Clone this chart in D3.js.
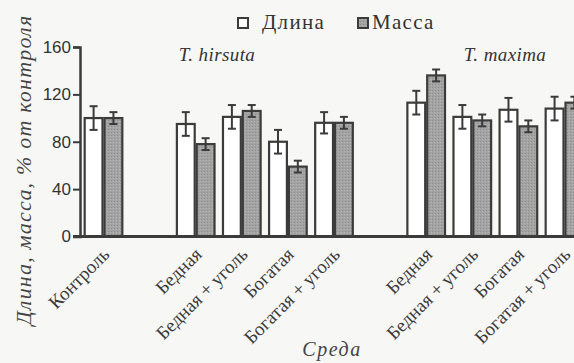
<!DOCTYPE html>
<html><head><meta charset="utf-8">
<script src="https://cdn.jsdelivr.net/npm/d3@7/dist/d3.min.js"></script>
<style>
body{margin:0;background:#f7f7f5;} svg{display:block;}
.serif{font-family:"Liberation Serif","Times New Roman",serif;}
.sans{font-family:"Liberation Sans",Arial,sans-serif;}
</style>
</head><body>
<svg id="c" width="574" height="363"></svg>
<script>
const groups = ["control", "T. hirsuta", "T. maxima"];
const categories = ["Контроль","Бедная","Бедная + уголь","Богатая","Богатая + уголь","Бедная","Бедная + уголь","Богатая","Богатая + уголь"];
const categoryGroup = ["control","T. hirsuta","T. hirsuta","T. hirsuta","T. hirsuta","T. maxima","T. maxima","T. maxima","T. maxima"];
const series = ["Длина", "Масса"];
const lengthValues = [100, 95, 101, 80, 96, 113, 101, 107, 108];
const lengthErr    = [10, 10, 10, 10, 9, 10, 10, 10, 10];
const massValues   = [100, 78, 106, 59, 96, 136, 98, 93, 113];
const massErr      = [5, 5, 5, 5, 5, 5, 5, 5, 5];
const yTicks = [0, 40, 80, 120, 160];

const svg = d3.select("#c");
const ink = "#3b3b3b";
const grayFill = "#a3a3a3";

// slot domain: a blank slot between groups
const slots = [];
categories.forEach((c, i) => {
  if (i > 0 && categoryGroup[i] !== categoryGroup[i-1]) slots.push("gap" + i);
  slots.push("c" + i);
});
const x = d3.scaleBand().domain(slots).range([80, 588]).paddingInner(0.14).paddingOuter(0.08);
const xs = d3.scaleBand().domain(series).range([0, x.bandwidth()]).padding(0);
const y = d3.scaleLinear().domain([0, 160]).range([236.5, 47]);

// gray texture
const defs = svg.append("defs");
const pat = defs.append("pattern").attr("id","tex").attr("width",3).attr("height",3).attr("patternUnits","userSpaceOnUse");
pat.append("rect").attr("width",3).attr("height",3).attr("fill",grayFill);
pat.append("rect").attr("x",0).attr("y",0).attr("width",1).attr("height",1).attr("fill","#8e8e8e");
pat.append("rect").attr("x",2).attr("y",1).attr("width",1).attr("height",1).attr("fill","#b5b5b5");

const data = [];
categories.forEach((c, i) => {
  data.push({slot:"c"+i, s:"Длина", v:lengthValues[i], e:lengthErr[i]});
  data.push({slot:"c"+i, s:"Масса", v:massValues[i], e:massErr[i]});
});

const g = svg.append("g");
g.selectAll("rect.bar").data(data).enter().append("rect")
  .attr("class","bar")
  .attr("x", d => x(d.slot) + xs(d.s) + 1)
  .attr("width", xs.bandwidth() - 2)
  .attr("y", d => y(d.v))
  .attr("height", d => y(0) - y(d.v))
  .attr("fill", d => d.s === "Длина" ? "#ffffff" : "url(#tex)")
  .attr("stroke", ink).attr("stroke-width", 2.2);

// error bars
const eb = g.selectAll("g.eb").data(data).enter().append("g").attr("class","eb")
  .attr("transform", d => `translate(${x(d.slot) + xs(d.s) + xs.bandwidth()/2},0)`);
eb.append("line").attr("y1", d => y(d.v + d.e)).attr("y2", d => y(d.v - d.e))
  .attr("stroke", ink).attr("stroke-width", 2);
eb.append("line").attr("x1",-4).attr("x2",4).attr("y1", d => y(d.v + d.e)).attr("y2", d => y(d.v + d.e))
  .attr("stroke", ink).attr("stroke-width", 2);
eb.append("line").attr("x1",-4).attr("x2",4).attr("y1", d => y(d.v - d.e)).attr("y2", d => y(d.v - d.e))
  .attr("stroke", ink).attr("stroke-width", 2);

// y axis
const yAxis = svg.append("g").attr("transform","translate(80,0)")
  .call(d3.axisLeft(y).tickValues(yTicks).tickSize(7).tickPadding(2));
yAxis.attr("font-family", null).attr("font-size", null);
yAxis.select(".domain").attr("stroke", ink).attr("stroke-width", 2.5);
yAxis.selectAll(".tick line").attr("stroke", ink).attr("stroke-width", 2);
yAxis.selectAll(".tick text").attr("class","sans").style("font-size","17px").attr("fill", "#333");

// x axis
const xAxis = svg.append("g").attr("transform", `translate(0,${y(0)})`)
  .call(d3.axisBottom(x).tickValues(categories.map((c,i)=>"c"+i)).tickSize(0)
    .tickFormat(d => categories[+d.slice(1)]));
xAxis.attr("font-family", null).attr("font-size", null);
xAxis.select(".domain").attr("d", `M73,0H574`).attr("stroke", ink).attr("stroke-width", 3);
xAxis.selectAll(".tick text")
  .attr("class","serif").style("font-size","19px").attr("fill","#3a3a3a")
  .attr("text-anchor","end").attr("dy", 0)
  .attr("transform","translate(5,17) rotate(-45)");

// y label
svg.append("text").attr("class","serif").attr("transform","translate(31,170) rotate(-90)")
  .attr("text-anchor","middle")
  .style("font-style","italic").style("font-size","22px").attr("letter-spacing", 1.2).attr("fill","#444")
  .text("Длина, масса, % от контроля");

// x label
svg.append("text").attr("class","serif").attr("x", 332).attr("y", 356).attr("text-anchor","middle")
  .style("font-style","italic").style("font-size","20px").attr("fill","#444").attr("letter-spacing", 1.5)
  .text("Среда");

// species labels
const speciesX = [217, 505];
groups.slice(1).forEach((gn, k) => {
  svg.append("text").attr("class","serif").attr("x", speciesX[k]).attr("y", 61).attr("text-anchor","middle")
    .style("font-style","italic").style("font-size","19px").attr("letter-spacing", 0.4)
    .attr("fill","#333").text(gn);
});

// legend
const legBoxX = [238, 358];
const legTextX = [262, 372];
series.forEach((s, i) => {
  svg.append("rect").attr("x", legBoxX[i]).attr("y",18).attr("width",10).attr("height",10)
    .attr("fill", i===0 ? "#fff" : "url(#tex)").attr("stroke", ink).attr("stroke-width", 2);
  svg.append("text").attr("class","serif").attr("x", legTextX[i]).attr("y",29)
    .style("font-size", "21px").attr("letter-spacing", 1.3).attr("fill","#333").text(s);
});
</script>
</body></html>
